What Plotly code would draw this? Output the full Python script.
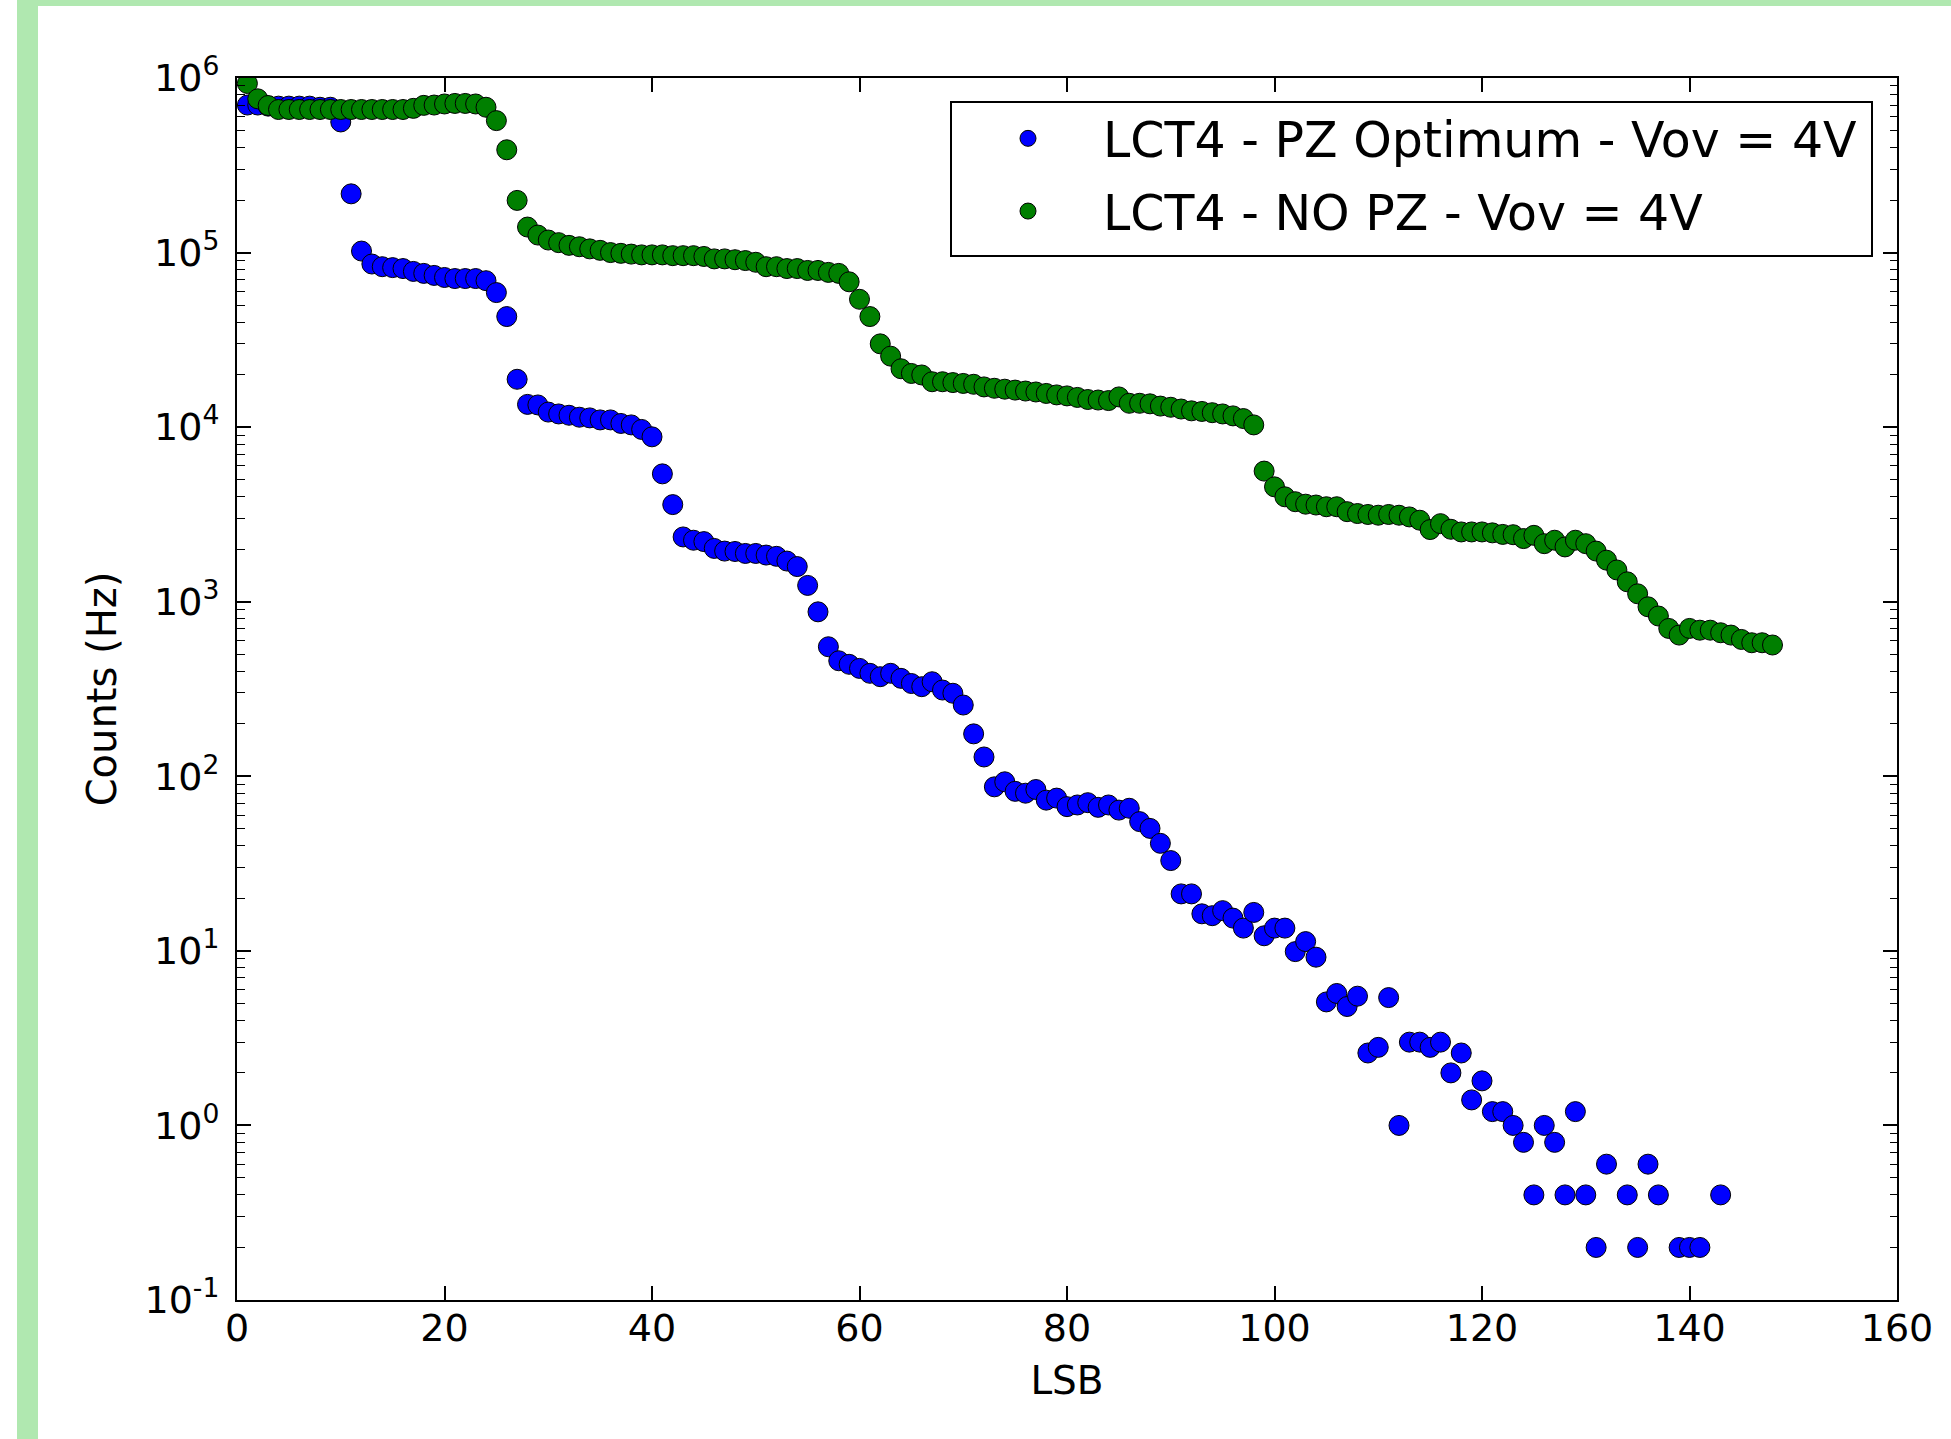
import plotly.graph_objects as go

# ---------------- data ----------------
lsb_pz = list(range(1, 133)) + [134, 135, 136, 137, 139, 140, 141, 143]
counts_pz = [
    7.0e5, 7.0e5, 6.9e5, 6.9e5, 6.9e5, 6.9e5, 6.9e5, 6.8e5, 6.8e5, 5.6e5,      # 1-10
    2.17e5, 1.02e5, 8.6e4, 8.3e4, 8.2e4, 8.1e4, 7.8e4, 7.6e4, 7.4e4, 7.2e4,   # 11-20
    7.1e4, 7.1e4, 7.1e4, 6.9e4, 5.9e4, 4.3e4, 1.88e4, 1.35e4, 1.34e4, 1.22e4, # 21-30
    1.19e4, 1.17e4, 1.14e4, 1.13e4, 1.10e4, 1.10e4, 1.05e4, 1.03e4, 9.7e3, 8.8e3,  # 31-40
    5.4e3, 3.6e3, 2.35e3, 2.25e3, 2.21e3, 2.02e3, 1.95e3, 1.94e3, 1.89e3, 1.89e3,  # 41-50
    1.85e3, 1.82e3, 1.71e3, 1.59e3, 1.24e3, 875, 552, 459, 438, 415,          # 51-60
    389, 372, 389, 364, 340, 326, 348, 312, 299, 256,                         # 61-70
    175, 129, 87, 93, 82, 80, 84, 73, 75, 67,                                 # 71-80
    68.5, 70.6, 66.4, 68.5, 64, 65.6, 55, 50.3, 41.3, 32.9,                   # 81-90
    21.2, 21.2, 16.3, 15.9, 17.0, 15.4, 13.5, 16.6, 12.2, 13.5,               # 91-100
    13.5, 9.9, 11.3, 9.2, 5.1, 5.7, 4.8, 5.5, 2.6, 2.8,                       # 101-110
    5.4, 1.0, 3.0, 3.0, 2.8, 3.0, 2.0, 2.6, 1.4, 1.8,                         # 111-120
    1.2, 1.2, 1.0, 0.8, 0.4, 1.0, 0.8, 0.4, 1.2, 0.4,                         # 121-130
    0.2, 0.6,                                                                  # 131-132
    0.4, 0.2, 0.6, 0.4, 0.2, 0.2, 0.2, 0.4,                                   # 134,135,136,137,139,140,141,143
]

lsb_nopz = list(range(1, 149))
counts_nopz = [
    9.3e5, 7.6e5, 6.96e5, 6.6e5, 6.6e5, 6.6e5, 6.6e5, 6.6e5, 6.6e5, 6.6e5,   # 1-10
    6.6e5, 6.6e5, 6.6e5, 6.6e5, 6.6e5, 6.6e5, 6.7e5, 6.97e5, 7.0e5, 7.1e5,   # 11-20
    7.15e5, 7.15e5, 7.1e5, 6.8e5, 5.7e5, 3.88e5, 1.99e5, 1.40e5, 1.26e5, 1.18e5,  # 21-30
    1.14e5, 1.10e5, 1.08e5, 1.05e5, 1.03e5, 1.00e5, 9.9e4, 9.8e4, 9.7e4, 9.7e4,   # 31-40
    9.7e4, 9.6e4, 9.6e4, 9.6e4, 9.5e4, 9.2e4, 9.2e4, 9.1e4, 9.0e4, 8.8e4,    # 41-50
    8.3e4, 8.3e4, 8.1e4, 8.1e4, 7.9e4, 7.9e4, 7.7e4, 7.6e4, 6.8e4, 5.4e4,    # 51-60
    4.3e4, 3.0e4, 2.55e4, 2.16e4, 2.03e4, 1.99e4, 1.82e4, 1.82e4, 1.80e4, 1.78e4,  # 61-70
    1.76e4, 1.70e4, 1.67e4, 1.65e4, 1.63e4, 1.61e4, 1.59e4, 1.56e4, 1.53e4, 1.51e4,  # 71-80
    1.48e4, 1.44e4, 1.43e4, 1.42e4, 1.49e4, 1.37e4, 1.37e4, 1.36e4, 1.32e4, 1.30e4,  # 81-90
    1.27e4, 1.24e4, 1.23e4, 1.21e4, 1.19e4, 1.16e4, 1.12e4, 1.03e4, 5.6e3, 4.55e3,   # 91-100
    3.99e3, 3.74e3, 3.62e3, 3.58e3, 3.5e3, 3.5e3, 3.28e3, 3.2e3, 3.16e3, 3.13e3,    # 101-110
    3.16e3, 3.13e3, 3.06e3, 2.93e3, 2.59e3, 2.8e3, 2.6e3, 2.51e3, 2.51e3, 2.51e3,   # 111-120
    2.48e3, 2.43e3, 2.42e3, 2.3e3, 2.4e3, 2.15e3, 2.25e3, 2.06e3, 2.25e3, 2.15e3,   # 121-130
    1.95e3, 1.73e3, 1.52e3, 1.3e3, 1.11e3, 935, 828, 703, 644, 703,                 # 131-140
    687, 687, 664, 644, 608, 582, 582, 565,                                          # 141-148
]

x_ticks = [0, 20, 40, 60, 80, 100, 120, 140, 160]
y_exponents = [-1, 0, 1, 2, 3, 4, 5, 6]

series_names = ["LCT4 - PZ Optimum - Vov = 4V", "LCT4 - NO PZ - Vov = 4V"]

# ---------------- figure ----------------
W, H = 1951, 1439
ML, MR, MT, MB = 237, 54, 78, 139
PW, PH = W - ML - MR, H - MT - MB

def px(xp):
    return (xp - ML) / PW

def py(yp):
    return (H - MB - yp) / PH

FONT = "DejaVu Sans"

fig = go.Figure()
fig.add_trace(go.Scatter(
    x=lsb_pz, y=counts_pz, mode="markers", name=series_names[0],
    legendgroup="a",
    marker=dict(color="#0000ff", size=20, line=dict(color="black", width=1)),
))
fig.add_trace(go.Scatter(
    x=lsb_nopz, y=counts_nopz, mode="markers", name=series_names[1],
    legendgroup="b",
    marker=dict(color="#007f00", size=20, line=dict(color="black", width=1)),
))

minor_vals = [m * 10.0 ** k for k in range(-1, 6) for m in range(2, 10)]

axis_common = dict(
    showline=True, linecolor="black", linewidth=2, mirror="allticks",
    ticks="inside", ticklen=14, tickwidth=1.5, tickcolor="black",
    showgrid=False, zeroline=False,
    tickfont=dict(family=FONT, size=38, color="black"),
)

fig.update_xaxes(
    range=[0, 160], tickmode="array", tickvals=x_ticks,
    ticktext=[str(v) for v in x_ticks],
    title=dict(text="LSB", font=dict(family=FONT, size=39, color="black"), standoff=18),
    ticklabelstandoff=-7,
    **axis_common,
)
fig.update_yaxes(
    type="log", range=[-1, 6], tickmode="array",
    tickvals=[10.0 ** e for e in y_exponents],
    ticktext=["10<sup>%d</sup>" % e for e in y_exponents],
    minor=dict(tickvals=minor_vals, ticks="inside", ticklen=7.5, tickwidth=1.2,
               tickcolor="black", showgrid=False),
    title=dict(text="Counts (Hz)", font=dict(family=FONT, size=40, color="black"), standoff=16),
    ticklabelstandoff=8,
    **axis_common,
)

# light-green frame strips of the original screenshot
frame_color = "#b0e8b0"
fig.add_shape(type="rect", xref="paper", yref="paper", layer="below",
              x0=px(17), x1=px(38), y0=py(H), y1=py(0),
              fillcolor=frame_color, line=dict(width=0))
fig.add_shape(type="rect", xref="paper", yref="paper", layer="below",
              x0=px(17), x1=px(W), y0=py(6), y1=py(0),
              fillcolor=frame_color, line=dict(width=0))

# legend frame (matplotlib-style box with wider padding)
fig.add_shape(type="rect", xref="paper", yref="paper", layer="above",
              x0=px(951), x1=px(1872), y0=py(256), y1=py(102),
              fillcolor="white", line=dict(color="black", width=2))

fig.update_layout(
    width=W, height=H,
    margin=dict(l=ML, r=MR, t=MT, b=MB, autoexpand=False),
    paper_bgcolor="white", plot_bgcolor="white",
    font=dict(family=FONT, size=38, color="black"),
    showlegend=True,
    legend=dict(
        x=px(953), y=py(100), xanchor="left", yanchor="top",
        bgcolor="rgba(0,0,0,0)", borderwidth=0,
        font=dict(family=FONT, size=49, color="black"),
        itemwidth=140, traceorder="grouped", tracegroupgap=6,
    ),
)

fig.write_html("out.html", config={"displayModeBar": False},
               post_script="document.body.style.margin='0';")
